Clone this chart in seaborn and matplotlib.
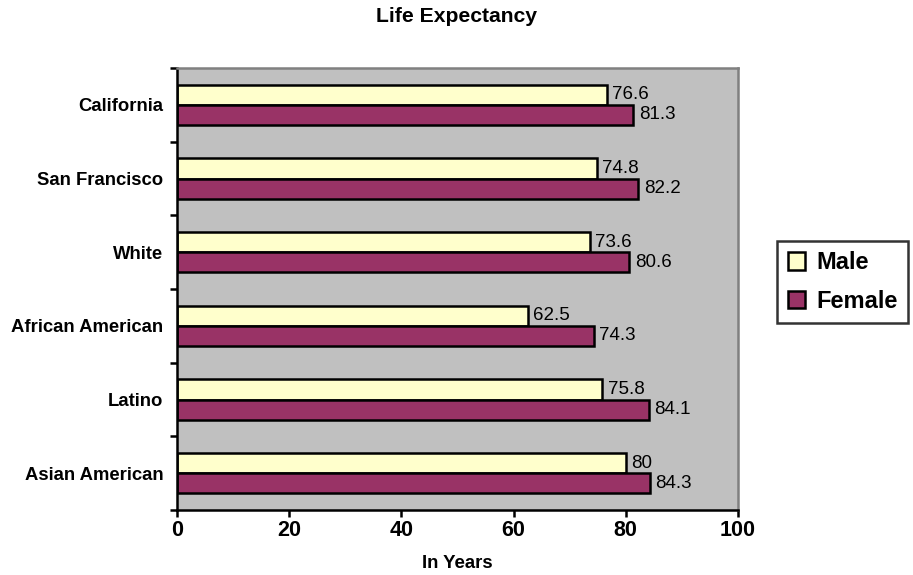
import matplotlib
matplotlib.use("Agg")
import matplotlib.pyplot as plt
import pandas as pd
import seaborn as sns

# データ
groups = ["California", "San Francisco", "White", "African American", "Latino", "Asian American"]
male = [76.6, 74.8, 73.6, 62.5, 75.8, 80]
female = [81.3, 82.2, 80.6, 74.3, 84.1, 84.3]
x_ticks = [0, 20, 40, 60, 80, 100]

df = pd.DataFrame({
    "group": groups * 2,
    "sex": ["Male"] * len(groups) + ["Female"] * len(groups),
    "years": male + female,
})

sns.set_style("white")
plt.rcParams["font.family"] = ["Liberation Sans", "DejaVu Sans"]
plt.rcParams["text.color"] = "black"
plt.rcParams["xtick.color"] = "black"
plt.rcParams["ytick.color"] = "black"
plt.rcParams["axes.labelcolor"] = "black"

fig = plt.figure(figsize=(9.13, 5.75), dpi=100)
ax = fig.add_axes([0.1939, 0.113, 0.6144, 0.7687])
ax.set_facecolor("#C0C0C0")

sns.barplot(data=df, y="group", x="years", hue="sex", order=groups,
            palette={"Male": "#FFFFCC", "Female": "#993366"}, saturation=1,
            edgecolor="black", linewidth=1.8, width=0.55, ax=ax, legend=False)

# バーの値ラベル
for container in ax.containers:
    ax.bar_label(container, labels=[f"{v:g}" for v in container.datavalues],
                 padding=4, fontsize=13.5)

ax.set_xlim(0, 100)
ax.set_ylim(len(groups) - 0.5, -0.5)
ax.set_xticks(x_ticks)
ax.set_xticklabels([str(t) for t in x_ticks], fontsize=15.5, fontweight="bold")
ax.tick_params(axis="x", bottom=True, direction="out", length=5, width=1.8, pad=2)

# カテゴリ境界にティック、中央にラベル
ax.set_yticks([i - 0.5 for i in range(len(groups) + 1)])
ax.set_yticklabels([])
ax.set_yticks(range(len(groups)), minor=True)
ax.set_yticklabels(groups, minor=True, fontsize=13.3, fontweight="bold")
ax.tick_params(axis="y", which="major", left=True, direction="out", length=5, width=1.8)
ax.tick_params(axis="y", which="minor", left=True, length=0, pad=10)

for side in ["left", "bottom"]:
    ax.spines[side].set_color("black")
    ax.spines[side].set_linewidth(1.8)
for side in ["top", "right"]:
    ax.spines[side].set_color("#808080")
    ax.spines[side].set_linewidth(1.8)

ax.set_ylabel("")
ax.set_xlabel("In Years", fontsize=13.4, fontweight="bold", labelpad=10)
fig.suptitle("Life Expectancy", fontsize=15.2, fontweight="bold", y=0.987)

handles = [plt.Rectangle((0, 0), 1, 1, facecolor="#FFFFCC", edgecolor="black", linewidth=1.8),
           plt.Rectangle((0, 0), 1, 1, facecolor="#993366", edgecolor="black", linewidth=1.8)]
leg = fig.legend(handles, ["Male", "Female"], loc="center left",
                 bbox_to_anchor=(0.851, 0.5096), frameon=True, fancybox=False,
                 handlelength=0.75, handleheight=0.75, handletextpad=0.45,
                 prop={"size": 17, "weight": "bold"}, borderpad=0.45, labelspacing=0.65,
                 borderaxespad=0)
leg.get_frame().set_edgecolor("black")
leg.get_frame().set_linewidth(1.8)

fig.savefig("out.png", dpi=100)
